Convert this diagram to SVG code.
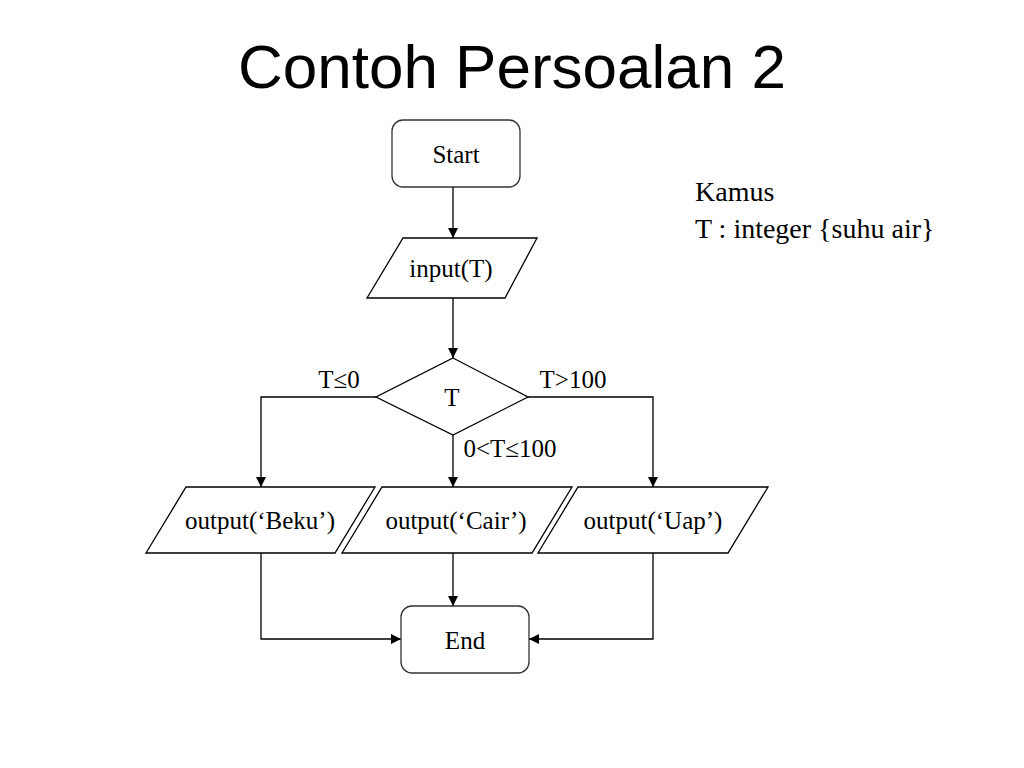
<svg xmlns="http://www.w3.org/2000/svg" width="1024" height="768" viewBox="0 0 1024 768">
<defs>
<marker id="arr" viewBox="0 0 10 10" refX="10" refY="5" markerWidth="10" markerHeight="10" markerUnits="userSpaceOnUse" orient="auto">
<path d="M0,0 L10,5 L0,10 z" fill="#000"/>
</marker>
<style>
.shape{fill:#fff;stroke:#000;stroke-width:1.3}
.term{fill:#fff;stroke:#333;stroke-width:1.3}
.lbl{font-family:"Liberation Serif",serif;font-size:25px;fill:#000;text-anchor:middle}
.edge{fill:none;stroke:#000;stroke-width:1.3}
.note{font-family:"Liberation Serif",serif;font-size:28px;fill:#000}
</style>
</defs>
<rect width="1024" height="768" fill="#fff"/>
<text x="512" y="88" font-family="Liberation Sans, sans-serif" font-size="62" text-anchor="middle">Contoh Persoalan 2</text>
<g id="connectors">
<path class="edge" d="M453,187 L453,238" marker-end="url(#arr)"/>
<path class="edge" d="M453,298 L453,358" marker-end="url(#arr)"/>
<path class="edge" d="M376,397 L261,397 L261,487" marker-end="url(#arr)"/>
<path class="edge" d="M453,435 L453,487" marker-end="url(#arr)"/>
<path class="edge" d="M528,397 L653,397 L653,487" marker-end="url(#arr)"/>
<path class="edge" d="M261,553 L261,639 L401,639" marker-end="url(#arr)"/>
<path class="edge" d="M453,553 L453,606" marker-end="url(#arr)"/>
<path class="edge" d="M653,553 L653,639 L529,639" marker-end="url(#arr)"/>
<text class="lbl" x="339" y="388">T≤0</text>
<text class="lbl" x="573" y="388">T&gt;100</text>
<text class="lbl" x="510" y="457">0&lt;T≤100</text>
</g>
<g id="start">
<rect class="term" x="392" y="120" width="128" height="67" rx="11"/>
<text class="lbl" x="456" y="163">Start</text>
</g>
<g id="input">
<polygon class="shape" points="403,238 537,238 505,298 367,298"/>
<text class="lbl" x="451" y="277">input(T)</text>
</g>
<g id="decision">
<polygon class="shape" points="453,358 528,397 453,435 376,397"/>
<text class="lbl" x="452" y="406">T</text>
</g>
<g id="beku">
<polygon class="shape" points="186,487 375,487 335,553 146,553"/>
<text class="lbl" x="260" y="529">output(‘Beku’)</text>
</g>
<g id="cair">
<polygon class="shape" points="382,487 572,487 532,553 342,553"/>
<text class="lbl" x="456" y="529">output(‘Cair’)</text>
</g>
<g id="uap">
<polygon class="shape" points="578,487 768,487 728,553 538,553"/>
<text class="lbl" x="653" y="529">output(‘Uap’)</text>
</g>
<g id="end">
<rect class="term" x="401" y="606" width="128" height="67" rx="11"/>
<text class="lbl" x="465" y="649">End</text>
</g>
<g id="kamus">
<text class="note" x="695" y="201">Kamus</text>
<text class="note" x="695" y="238">T : integer {suhu air}</text>
</g>
</svg>
